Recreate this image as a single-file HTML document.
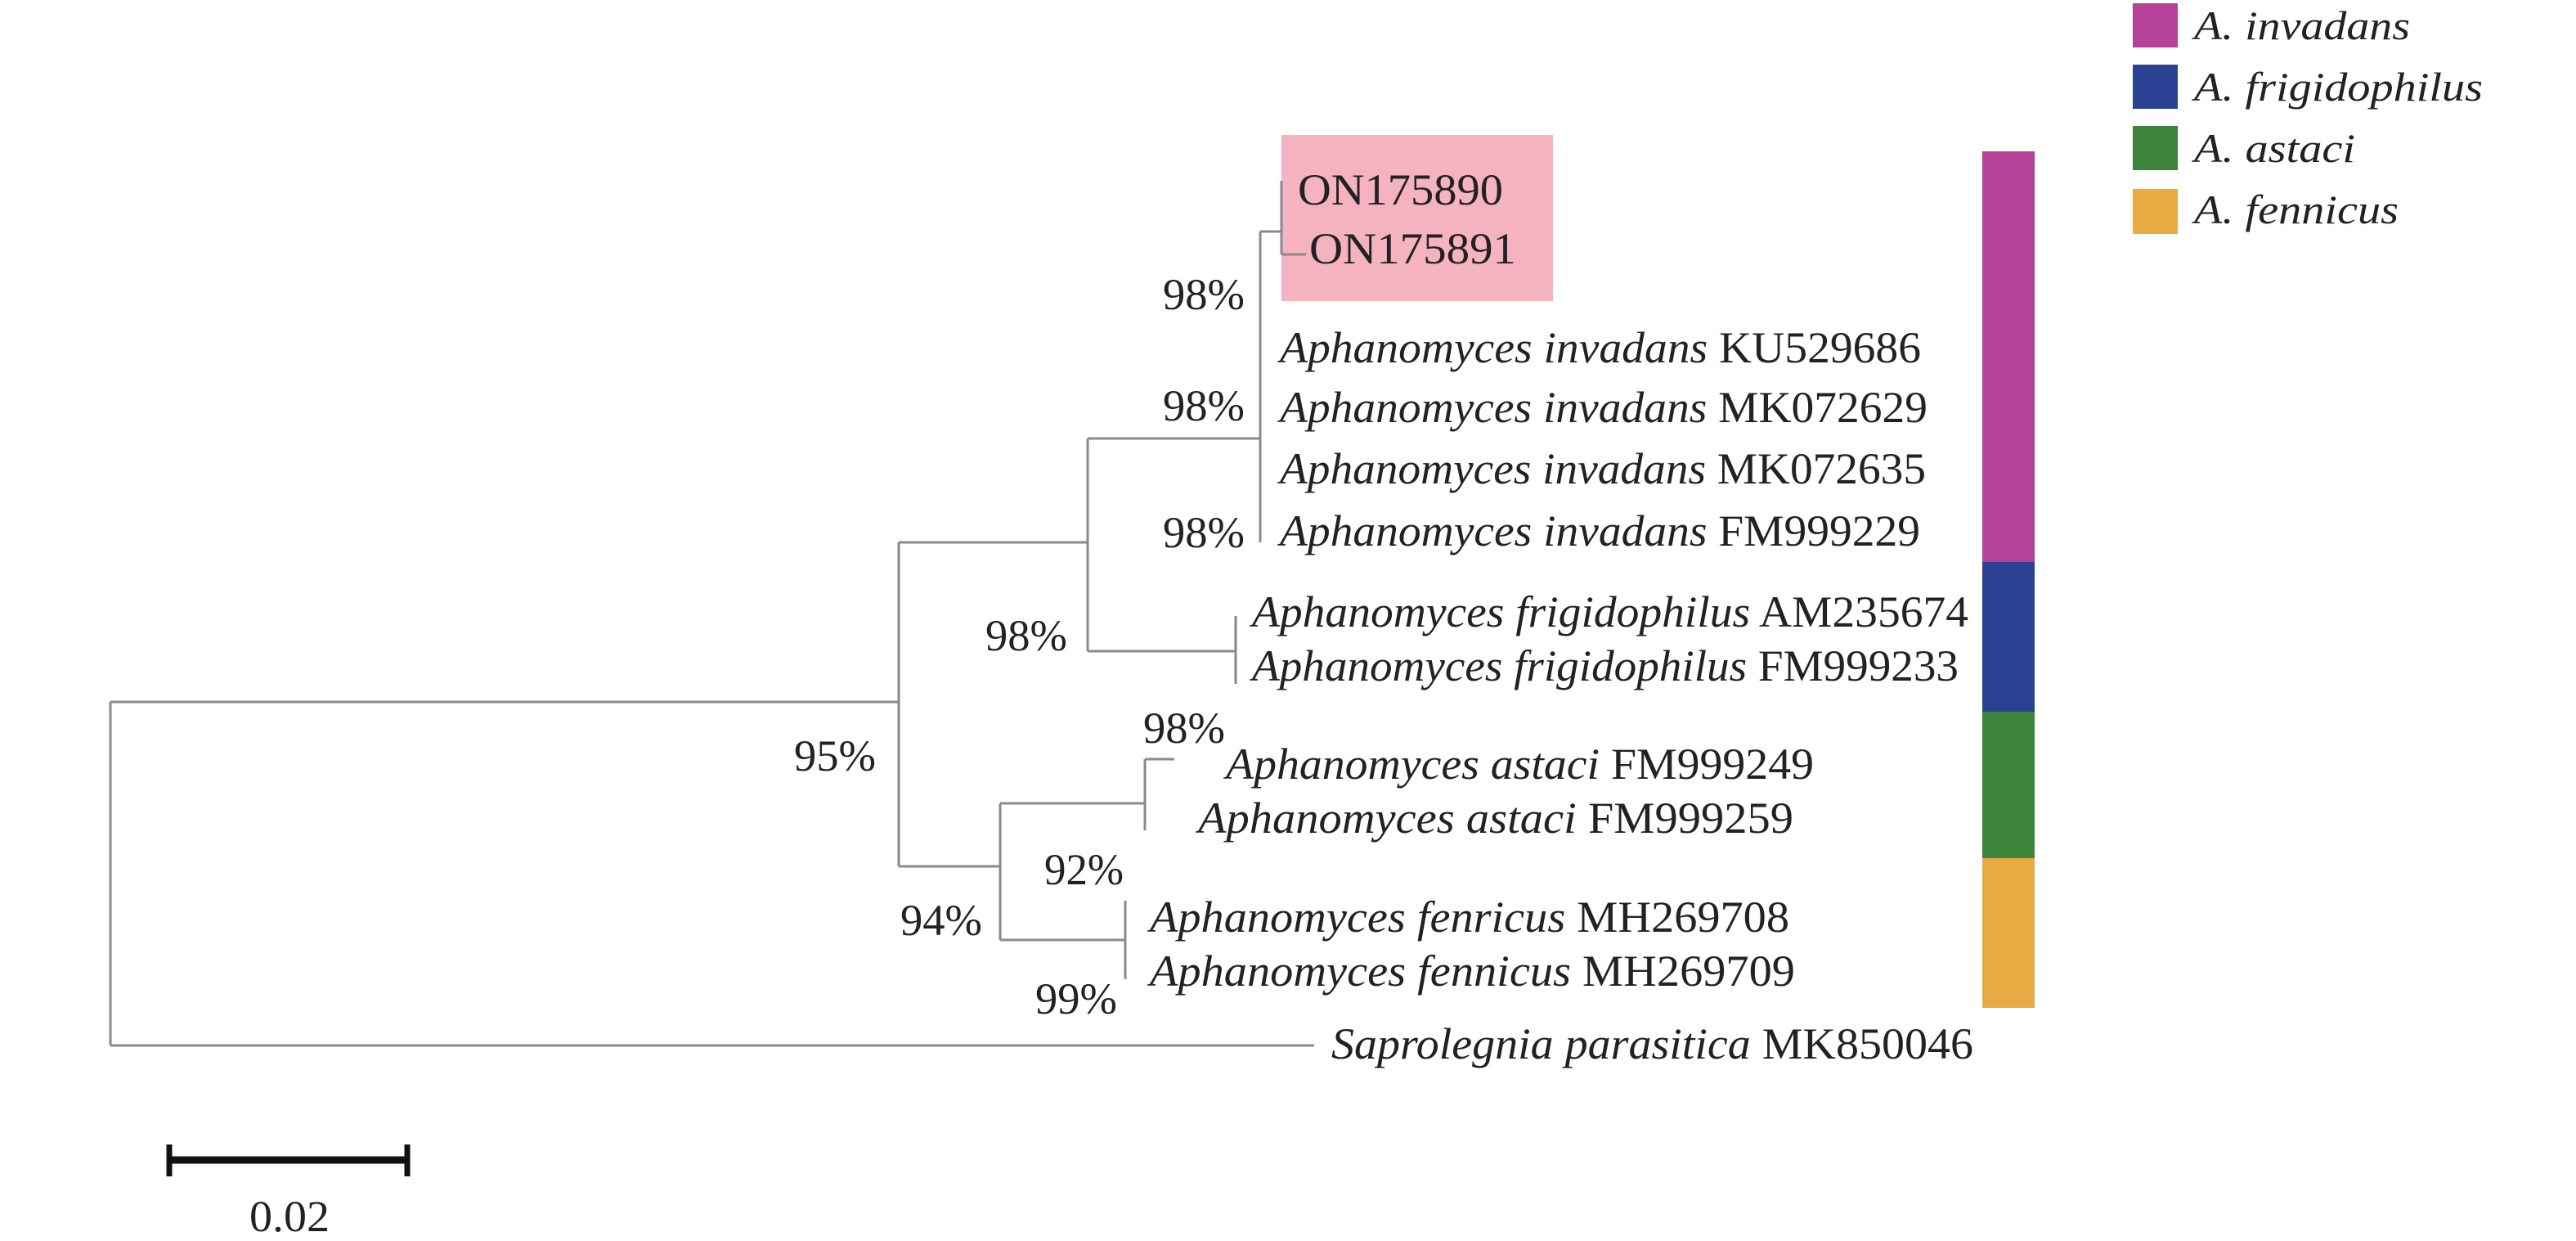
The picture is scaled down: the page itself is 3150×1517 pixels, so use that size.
<!DOCTYPE html>
<html><head><meta charset="utf-8"><style>html,body{margin:0;padding:0;background:#fff}svg{display:block}</style></head>
<body>
<svg width="3150" height="1517" viewBox="0 0 3150 1517" xmlns="http://www.w3.org/2000/svg" font-family="'Liberation Serif', serif" font-size="54" fill="#222">
<rect x="1567" y="165" width="332" height="203" fill="#f4b3bf"/>
<g stroke="#8a8a8a" stroke-width="3" fill="none">
<path d="M135 858 V1278 M135 858 H1099 M1099 663 V1059 M1099 663 H1330 M1330 536 V796 M1330 536 H1541 M1541 283 V663"/>
<path d="M1541 283 H1567 M1567 221 V311 M1567 311 H1597"/>
<path d="M1330 796 H1511 M1511 753 V836"/>
<path d="M1099 1059 H1223 M1223 982 V1149 M1223 982 H1400 M1400 928 V1015 M1400 928 H1436 M1223 1149 H1376 M1376 1101 V1197 M135 1278 H1607"/>
</g>
<g>
<text x="1587" y="250" textLength="251" lengthAdjust="spacingAndGlyphs">ON175890</text>
<text x="1601" y="322" textLength="253" lengthAdjust="spacingAndGlyphs">ON175891</text>
<text x="1565" y="443" textLength="784" lengthAdjust="spacingAndGlyphs"><tspan font-style="italic">Aphanomyces invadans</tspan> KU529686</text>
<text x="1565" y="516" textLength="792" lengthAdjust="spacingAndGlyphs"><tspan font-style="italic">Aphanomyces invadans</tspan> MK072629</text>
<text x="1565" y="591" textLength="790" lengthAdjust="spacingAndGlyphs"><tspan font-style="italic">Aphanomyces invadans</tspan> MK072635</text>
<text x="1565" y="667" textLength="783" lengthAdjust="spacingAndGlyphs"><tspan font-style="italic">Aphanomyces invadans</tspan> FM999229</text>
<text x="1531" y="766" textLength="876" lengthAdjust="spacingAndGlyphs"><tspan font-style="italic">Aphanomyces frigidophilus</tspan> AM235674</text>
<text x="1531" y="832" textLength="864" lengthAdjust="spacingAndGlyphs"><tspan font-style="italic">Aphanomyces frigidophilus</tspan> FM999233</text>
<text x="1499" y="952" textLength="719" lengthAdjust="spacingAndGlyphs"><tspan font-style="italic">Aphanomyces astaci</tspan> FM999249</text>
<text x="1465" y="1018" textLength="728" lengthAdjust="spacingAndGlyphs"><tspan font-style="italic">Aphanomyces astaci</tspan> FM999259</text>
<text x="1406" y="1139" textLength="782" lengthAdjust="spacingAndGlyphs"><tspan font-style="italic">Aphanomyces fenricus</tspan> MH269708</text>
<text x="1406" y="1205" textLength="789" lengthAdjust="spacingAndGlyphs"><tspan font-style="italic">Aphanomyces fennicus</tspan> MH269709</text>
<text x="1628" y="1294" textLength="785" lengthAdjust="spacingAndGlyphs"><tspan font-style="italic">Saprolegnia parasitica</tspan> MK850046</text>
</g>
<g>
<text x="1422" y="378" textLength="100" lengthAdjust="spacingAndGlyphs">98%</text>
<text x="1422" y="514" textLength="100" lengthAdjust="spacingAndGlyphs">98%</text>
<text x="1422" y="669" textLength="100" lengthAdjust="spacingAndGlyphs">98%</text>
<text x="1205" y="795" textLength="100" lengthAdjust="spacingAndGlyphs">98%</text>
<text x="971" y="942" textLength="100" lengthAdjust="spacingAndGlyphs">95%</text>
<text x="1398" y="908" textLength="100" lengthAdjust="spacingAndGlyphs">98%</text>
<text x="1277" y="1081" textLength="97" lengthAdjust="spacingAndGlyphs">92%</text>
<text x="1101" y="1143" textLength="100" lengthAdjust="spacingAndGlyphs">94%</text>
<text x="1266" y="1239" textLength="100" lengthAdjust="spacingAndGlyphs">99%</text>
</g>
<rect x="2424" y="185" width="64" height="502" fill="#b64297"/>
<rect x="2424" y="687" width="64" height="183" fill="#2b4292"/>
<rect x="2424" y="870" width="64" height="179" fill="#3c843b"/>
<rect x="2424" y="1049" width="64" height="183" fill="#e9ab43"/>
<rect x="2608" y="4" width="55" height="54" fill="#b64297"/>
<rect x="2608" y="79" width="55" height="54" fill="#2b4292"/>
<rect x="2608" y="154" width="55" height="54" fill="#3c843b"/>
<rect x="2608" y="231" width="55" height="55" fill="#e9ab43"/>
<g font-style="italic" font-size="50">
<text x="2683" y="48" textLength="264" lengthAdjust="spacingAndGlyphs">A. invadans</text>
<text x="2683" y="123" textLength="353" lengthAdjust="spacingAndGlyphs">A. frigidophilus</text>
<text x="2683" y="198" textLength="197" lengthAdjust="spacingAndGlyphs">A. astaci</text>
<text x="2683" y="273" textLength="250" lengthAdjust="spacingAndGlyphs">A. fennicus</text>
</g>
<g stroke="#111" fill="none">
<path d="M207 1418 H498" stroke-width="9"/>
<path d="M207 1399 V1438 M498 1399 V1438" stroke-width="7"/>
</g>
<text x="305" y="1505" textLength="98" lengthAdjust="spacingAndGlyphs">0.02</text>
</svg>
</body></html>
